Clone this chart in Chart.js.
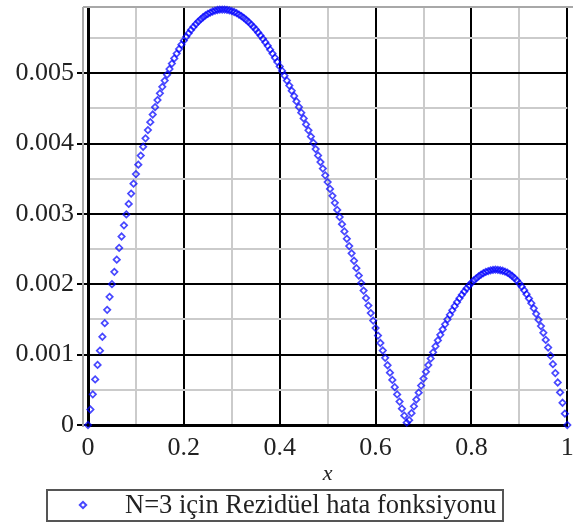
<!DOCTYPE html>
<html>
<head>
<meta charset="utf-8">
<title>Rezidüel hata</title>
<script src="https://cdn.jsdelivr.net/npm/chart.js@4.4.1/dist/chart.umd.min.js"></script>
<style>
  html, body { margin: 0; padding: 0; background: #fff; }
  canvas { display: block; }
</style>
</head>
<body>
<canvas id="myChart" width="573" height="523"></canvas>
<script>
// sample positions along x
const xValues = [
    0, 0.005, 0.01, 0.015, 0.02, 0.025, 0.03, 0.035, 0.04, 0.045,
    0.05, 0.055, 0.06, 0.065, 0.07, 0.075, 0.08, 0.085, 0.09, 0.095,
    0.1, 0.105, 0.11, 0.115, 0.12, 0.125, 0.13, 0.135, 0.14, 0.145,
    0.15, 0.155, 0.16, 0.165, 0.17, 0.175, 0.18, 0.185, 0.19, 0.195,
    0.2, 0.205, 0.21, 0.215, 0.22, 0.225, 0.23, 0.235, 0.24, 0.245,
    0.25, 0.255, 0.26, 0.265, 0.27, 0.275, 0.28, 0.285, 0.29, 0.295,
    0.3, 0.305, 0.31, 0.315, 0.32, 0.325, 0.33, 0.335, 0.34, 0.345,
    0.35, 0.355, 0.36, 0.365, 0.37, 0.375, 0.38, 0.385, 0.39, 0.395,
    0.4, 0.405, 0.41, 0.415, 0.42, 0.425, 0.43, 0.435, 0.44, 0.445,
    0.45, 0.455, 0.46, 0.465, 0.47, 0.475, 0.48, 0.485, 0.49, 0.495,
    0.5, 0.505, 0.51, 0.515, 0.52, 0.525, 0.53, 0.535, 0.54, 0.545,
    0.55, 0.555, 0.56, 0.565, 0.57, 0.575, 0.58, 0.585, 0.59, 0.595,
    0.6, 0.605, 0.61, 0.615, 0.62, 0.625, 0.63, 0.635, 0.64, 0.645,
    0.65, 0.655, 0.66, 0.665, 0.67, 0.675, 0.68, 0.685, 0.69, 0.695,
    0.7, 0.705, 0.71, 0.715, 0.72, 0.725, 0.73, 0.735, 0.74, 0.745,
    0.75, 0.755, 0.76, 0.765, 0.77, 0.775, 0.78, 0.785, 0.79, 0.795,
    0.8, 0.805, 0.81, 0.815, 0.82, 0.825, 0.83, 0.835, 0.84, 0.845,
    0.85, 0.855, 0.86, 0.865, 0.87, 0.875, 0.88, 0.885, 0.89, 0.895,
    0.9, 0.905, 0.91, 0.915, 0.92, 0.925, 0.93, 0.935, 0.94, 0.945,
    0.95, 0.955, 0.96, 0.965, 0.97, 0.975, 0.98, 0.985, 0.99, 0.995,
    1
];

// |R(x)|
const residual = [
    0, 0.000220, 0.000436, 0.000647, 0.000854, 0.001056, 0.001254, 0.001447, 0.001636, 0.001821,
    0.002001, 0.002177, 0.002349, 0.002516, 0.002679, 0.002837, 0.002992, 0.003142, 0.003288, 0.003429,
    0.003566, 0.003700, 0.003829, 0.003954, 0.004074, 0.004191, 0.004303, 0.004412, 0.004516, 0.004617,
    0.004713, 0.004806, 0.004894, 0.004979, 0.005059, 0.005136, 0.005209, 0.005278, 0.005343, 0.005405,
    0.005463, 0.005517, 0.005567, 0.005614, 0.005657, 0.005697, 0.005733, 0.005765, 0.005794, 0.005820,
    0.005842, 0.005861, 0.005876, 0.005888, 0.005897, 0.005902, 0.005904, 0.005904, 0.005900, 0.005892,
    0.005882, 0.005869, 0.005853, 0.005833, 0.005811, 0.005786, 0.005758, 0.005728, 0.005694, 0.005658,
    0.005620, 0.005578, 0.005534, 0.005488, 0.005439, 0.005388, 0.005334, 0.005278, 0.005219, 0.005159,
    0.005096, 0.005031, 0.004964, 0.004894, 0.004823, 0.004750, 0.004675, 0.004598, 0.004519, 0.004439,
    0.004356, 0.004272, 0.004187, 0.004100, 0.004011, 0.003921, 0.003830, 0.003737, 0.003644, 0.003548,
    0.003452, 0.003355, 0.003256, 0.003157, 0.003057, 0.002956, 0.002854, 0.002751, 0.002647, 0.002543,
    0.002439, 0.002334, 0.002229, 0.002123, 0.002017, 0.001910, 0.001804, 0.001697, 0.001590, 0.001484,
    0.001377, 0.001271, 0.001165, 0.001059, 0.000954, 0.000849, 0.000744, 0.000640, 0.000537, 0.000434,
    0.000333, 0.000232, 0.000132, 0.000033, 0.000068, 0.000168, 0.000266, 0.000362, 0.000460, 0.000560,
    0.000660, 0.000757, 0.000852, 0.000944, 0.001033, 0.001119, 0.001202, 0.001282, 0.001358, 0.001431,
    0.001500, 0.001566, 0.001629, 0.001689, 0.001746, 0.001800, 0.001850, 0.001897, 0.001941, 0.001982,
    0.002020, 0.002054, 0.002085, 0.002113, 0.002137, 0.002158, 0.002175, 0.002188, 0.002198, 0.002204,
    0.002207, 0.002205, 0.002199, 0.002192, 0.002180, 0.002164, 0.002143, 0.002117, 0.002087, 0.002052,
    0.002011, 0.001966, 0.001915, 0.001859, 0.001798, 0.001731, 0.001658, 0.001580, 0.001496, 0.001406,
    0.001311, 0.001209, 0.001101, 0.000986, 0.000865, 0.000738, 0.000604, 0.000463, 0.000316, 0.000161,
    0
];

const xTickLabels = ['0', '0.2', '0.4', '0.6', '0.8', '1'];
const yTickLabels = ['0', '0.001', '0.002', '0.003', '0.004', '0.005'];
const seriesLabel = 'N=3 için Rezidüel hata fonksiyonu';
const xTitle = 'x';

const serif = '"Liberation Serif", "Times New Roman", serif';
const blue = 'rgba(0, 0, 255, 0.72)';

// major grid every 2nd step, minor ones light grey
function isMajor(value, step) {
    const k = Math.round(value / step);
    return Math.abs(value / step - k) < 1e-6 && k % 2 === 0;
}

const frame = {
    id: 'frame',
    beforeDatasetsDraw(chart) {
        const ctx = chart.ctx;
        const a = chart.chartArea;
        ctx.save();
        ctx.strokeStyle = '#a8a8a8';
        ctx.lineWidth = 2;
        ctx.beginPath();
        ctx.moveTo(a.left - 5, a.top);
        ctx.lineTo(573, a.top);
        ctx.moveTo(a.left - 5, a.top);
        ctx.lineTo(a.left - 5, a.bottom + 2);
        ctx.stroke();
        ctx.restore();
    },
    afterDraw(chart) {
        const ctx = chart.ctx;
        ctx.save();
        ctx.strokeStyle = '#555';
        ctx.lineWidth = 2;
        ctx.strokeRect(47, 490, 456, 31);
        ctx.strokeStyle = blue;
        ctx.fillStyle = 'rgba(0,0,0,0)';
        Chart.helpers.drawPoint(ctx, { pointStyle: 'rectRot', radius: 3.2, borderWidth: 1.7 }, 83, 505);
        ctx.fillStyle = '#222';
        ctx.font = '26.5px ' + serif;
        ctx.textBaseline = 'middle';
        ctx.fillText(seriesLabel, 125, 506);
        ctx.restore();
    },
};

window.onload = function () {
    Chart.defaults.font.family = serif;
    Chart.defaults.font.size = 26;
    Chart.defaults.color = '#222';

    const points = xValues.map((x, i) => ({ x: x, y: residual[i] }));

    const ctx = document.getElementById('myChart').getContext('2d');
    new Chart(ctx, {
        type: 'scatter',
        data: {
            datasets: [
                {
                    label: seriesLabel,
                    data: points,
                    showLine: false,
                    pointStyle: 'rectRot',
                    pointRadius: 3.2,
                    pointBorderWidth: 1.7,
                    pointBorderColor: blue,
                    pointBackgroundColor: 'rgba(255,255,255,0)',
                    clip: false,
                },
            ],
        },
        options: {
            responsive: false,
            animation: false,
            devicePixelRatio: 1,
            layout: { padding: { top: 7, right: 2, bottom: 38, left: 0 } },
            plugins: {
                legend: { display: false },
                tooltip: { enabled: false },
            },
            scales: {
                x: {
                    type: 'linear',
                    min: 0,
                    max: 1,
                    afterFit: (s) => {
                        s.height = 60;
                        s.paddingLeft = 0;
                        s.paddingRight = 0;
                    },
                    ticks: {
                        stepSize: 0.1,
                        maxTicksLimit: 20,
                        autoSkip: false,
                        maxRotation: 0,
                        padding: 8,
                        callback: (v) => (isMajor(v, 0.1) ? xTickLabels[Math.round(v / 0.2)] : ''),
                    },
                    grid: {
                        drawTicks: false,
                        lineWidth: 2,
                        color: (c) => (c.tick && isMajor(c.tick.value, 0.1) ? '#000' : '#cbcbcb'),
                    },
                    border: { display: true, color: '#000', width: 3 },
                    title: {
                        display: true,
                        text: xTitle,
                        font: { family: serif, size: 22, style: 'italic', lineHeight: 1 },
                        padding: 0,
                    },
                },
                y: {
                    type: 'linear',
                    min: 0,
                    max: 0.00594,
                    afterFit: (s) => {
                        s.width = 88;
                        s.paddingTop = 0;
                        s.paddingBottom = 0;
                    },
                    ticks: {
                        stepSize: 0.0005,
                        maxTicksLimit: 20,
                        includeBounds: false,
                        autoSkip: false,
                        padding: 3,
                        callback: (v) => (isMajor(v, 0.0005) ? yTickLabels[Math.round(v / 0.001)] : ''),
                    },
                    grid: {
                        drawTicks: true,
                        tickLength: 11,
                        lineWidth: 2,
                        color: (c) => (c.tick && isMajor(c.tick.value, 0.0005) ? '#000' : '#cbcbcb'),
                        tickColor: (c) => (c.tick && isMajor(c.tick.value, 0.0005) ? '#000' : 'rgba(0,0,0,0)'),
                    },
                    border: { display: true, color: '#000', width: 3 },
                },
            },
        },
        plugins: [frame],
    });
};
</script>
</body>
</html>
